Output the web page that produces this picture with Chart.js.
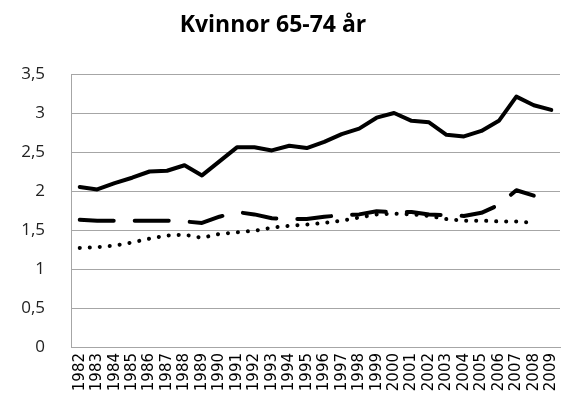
<!DOCTYPE html>
<html lang="sv">
<head>
  <meta charset="UTF-8">
  <title>Kvinnor 65-74 år</title>
  <script src="https://cdn.jsdelivr.net/npm/chart.js"></script>
  <style>
    body {
      margin: 0;
      background-color: #ffffff;
    }

    .chart-container {
      width: 561px;
      height: 410px;
    }
  </style>
</head>
<body>
  <div class="chart-container">
    <canvas id="chart"></canvas>
  </div>

  <script>
    const titleText = 'Kvinnor 65-74 år';

    const years = ['1982', '1983', '1984', '1985', '1986', '1987', '1988', '1989', '1990', '1991',
                   '1992', '1993', '1994', '1995', '1996', '1997', '1998', '1999', '2000', '2001',
                   '2002', '2003', '2004', '2005', '2006', '2007', '2008', '2009'];

    // solid line
    const solidValues = [2.05, 2.02, 2.10, 2.17, 2.25, 2.26, 2.33, 2.20, 2.38, 2.56,
                         2.56, 2.52, 2.58, 2.55, 2.63, 2.73, 2.80, 2.94, 3.00, 2.90,
                         2.88, 2.72, 2.70, 2.77, 2.90, 3.21, 3.10, 3.04];

    // dashed line
    const dashedValues = [1.63, 1.62, 1.62, 1.62, 1.62, 1.62, 1.61, 1.59, 1.67, 1.73,
                          1.70, 1.65, 1.64, 1.64, 1.67, 1.69, 1.70, 1.74, 1.73, 1.73,
                          1.70, 1.69, 1.68, 1.72, 1.82, 2.01, 1.94, null];

    // dotted line
    const dottedValues = [1.27, 1.28, 1.30, 1.34, 1.39, 1.43, 1.44, 1.40, 1.45, 1.47,
                          1.49, 1.53, 1.555, 1.57, 1.59, 1.62, 1.66, 1.70, 1.71, 1.70,
                          1.68, 1.64, 1.62, 1.62, 1.61, 1.61, 1.59, null];

    const gridColor = '#a6a6a6';

    // title drawn at a fixed spot above the plot
    const titlePlugin = {
      id: 'fixedTitle',
      afterDraw(chart) {
        const c = chart.ctx;
        c.save();
        c.font = 'bold 23px "Open Sans"';
        c.fillStyle = '#000000';
        c.textAlign = 'center';
        c.textBaseline = 'alphabetic';
        c.fillText(titleText, 273, 32);
        c.restore();
      }
    };

    const ctx = document.getElementById('chart').getContext('2d');

    const chart = new Chart(ctx, {
      type: 'line',
      data: {
        labels: years,
        datasets: [{
          label: 'Serie 1',
          data: solidValues,
          borderColor: '#000000',
          borderWidth: 4,
          pointRadius: 0,
          tension: 0,
          borderCapStyle: 'round',
          borderJoinStyle: 'round'
        }, {
          label: 'Serie 2',
          data: dashedValues,
          borderColor: '#000000',
          borderWidth: 4,
          pointRadius: 0,
          tension: 0,
          borderDash: [34, 21],
          borderCapStyle: 'round',
          borderJoinStyle: 'round'
        }, {
          label: 'Serie 3',
          data: dottedValues,
          borderColor: '#000000',
          borderWidth: 4,
          pointRadius: 0,
          tension: 0,
          borderDash: [0.1, 9.9],
          borderCapStyle: 'round',
          borderJoinStyle: 'round'
        }]
      },
      options: {
        responsive: true,
        maintainAspectRatio: false,
        animation: false,
        layout: {
          padding: { top: 74, right: 1, bottom: 0, left: 0 }
        },
        plugins: {
          legend: { display: false },
          title: { display: false },
          tooltip: { enabled: false }
        },
        scales: {
          x: {
            offset: true,
            grid: { display: false, drawTicks: false, offset: true },
            border: { display: true, color: gridColor, width: 1 },
            ticks: {
              minRotation: 90,
              maxRotation: 90,
              autoSkip: false,
              padding: 6,
              color: '#000000',
              font: { family: 'DejaVu Sans', size: 15 }
            },
            afterFit(scale) {
              scale.height = 63;
              scale.paddingLeft = 0;
              scale.paddingRight = 0;
            }
          },
          y: {
            min: 0,
            max: 3.5,
            grid: { color: gridColor, lineWidth: 1, drawTicks: false },
            border: { display: true, color: gridColor, width: 1 },
            ticks: {
              stepSize: 0.5,
              padding: 26,
              color: '#222222',
              font: { family: 'Open Sans', size: 17 },
              callback: (v) => String(v).replace('.', ',')
            },
            afterFit(scale) {
              scale.width = 71;
              scale.paddingTop = 0;
              scale.paddingBottom = 0;
            }
          }
        }
      },
      plugins: [titlePlugin]
    });
  </script>
</body>
</html>
